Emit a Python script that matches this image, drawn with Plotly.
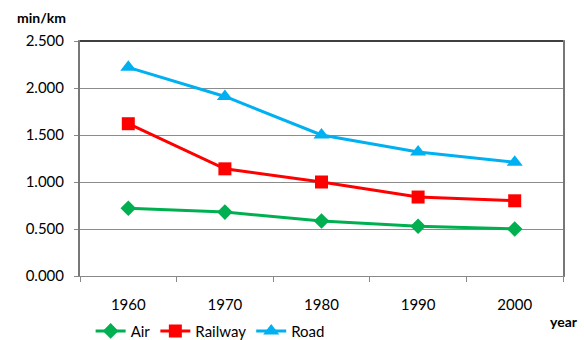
import plotly.graph_objects as go

years = ["1960", "1970", "1980", "1990", "2000"]
air = [0.72, 0.68, 0.585, 0.53, 0.50]
railway = [1.62, 1.14, 1.00, 0.84, 0.80]
road = [2.22, 1.91, 1.50, 1.32, 1.21]

font_family = "Lato, 'Open Sans', sans-serif"

fig = go.Figure()
fig.add_trace(go.Scatter(x=years, y=air, name="Air", mode="lines+markers",
                         line=dict(color="#00B050", width=3),
                         marker=dict(symbol="diamond", size=12, color="#00B050")))
fig.add_trace(go.Scatter(x=years, y=railway, name="Railway", mode="lines+markers",
                         line=dict(color="#FF0000", width=3),
                         marker=dict(symbol="square", size=13, color="#FF0000")))
fig.add_trace(go.Scatter(x=years, y=road, name="Road", mode="lines+markers",
                         line=dict(color="#00B0F0", width=3),
                         marker=dict(symbol="triangle-up", size=14, color="#00B0F0")))

fig.update_layout(
    width=584, height=340,
    margin=dict(l=80, r=21, t=41, b=64, autoexpand=False),
    paper_bgcolor="white", plot_bgcolor="white",
    font=dict(family=font_family, size=15, color="#000"),
    showlegend=True,
    legend=dict(orientation="h", x=0.022, xanchor="left",
                yref="container", y=0.026, yanchor="middle",
                font=dict(size=15), itemwidth=30, tracegroupgap=0,
                bgcolor="rgba(0,0,0,0)"),
    xaxis=dict(type="category", range=[-0.5, 4.5], tickson="boundaries",
               ticks="outside", ticklen=5, tickcolor="#888", showline=True,
               linecolor="#888", linewidth=1, mirror=True, showgrid=False,
               ticklabelstandoff=15, automargin=False, tickfont=dict(size=15)),
    yaxis=dict(range=[0, 2.5], dtick=0.5, tickformat=".3f", ticks="outside",
               ticklen=4, tickcolor="#888", showline=True, linecolor="#777",
               linewidth=2, mirror=True, showgrid=True, gridcolor="#8c8c8c",
               gridwidth=1, zeroline=False, automargin=False,
               ticklabelstandoff=7, tickfont=dict(size=15)),
    annotations=[
        dict(text="<b>min/km</b>", xref="paper", yref="paper", x=-0.079, y=1.10,
             xanchor="center", yanchor="middle", showarrow=False,
             font=dict(size=14)),
        dict(text="<b>year</b>", xref="paper", yref="paper", x=1.002, y=-0.192,
             xanchor="center", yanchor="middle", showarrow=False,
             font=dict(size=14)),
    ],
    shapes=[
        dict(type="line", xref="paper", yref="paper", x0=0, x1=1, y0=1, y1=1,
             line=dict(color="#404040", width=2)),
    ],
)

fig.write_html("out.html")
